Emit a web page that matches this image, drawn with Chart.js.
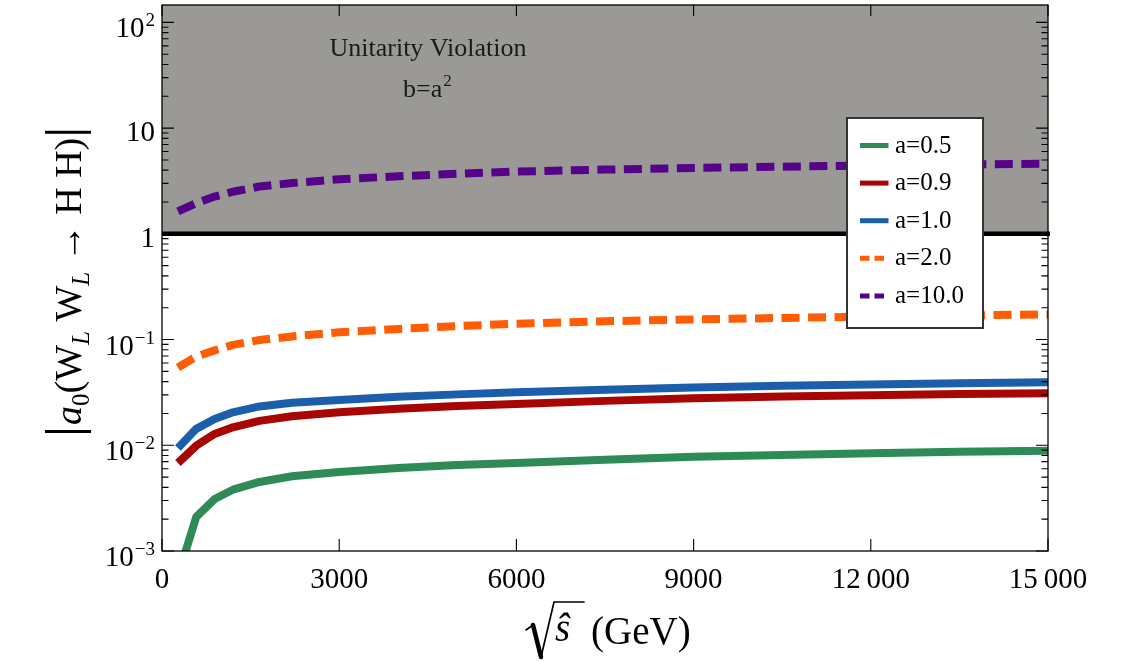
<!DOCTYPE html>
<html>
<head>
<meta charset="utf-8">
<script src="https://cdn.jsdelivr.net/npm/chart.js@4.4.0/dist/chart.umd.min.js"></script>
<style>
  html, body { margin: 0; padding: 0; background: #fff; }
</style>
</head>
<body>
<canvas id="amplitudeChart" width="1148" height="661"></canvas>
<script>
// valores: sqrt(s) en GeV y |a0| para cada a
const sqrtS = [270, 580, 890, 1200, 1650, 2200, 3000, 4000, 5000, 6000, 7500, 9000, 10500, 12000, 13500, 15000];
const seriesLabels = ['a=0.5', 'a=0.9', 'a=1.0', 'a=2.0', 'a=10.0'];
const a05 = [0.00058, 0.0021, 0.0031, 0.0038, 0.0045, 0.0051, 0.0056, 0.0061, 0.0065, 0.0068, 0.0073, 0.0078, 0.0081, 0.0084, 0.0087, 0.0089];
const a09 = [0.0068, 0.0099, 0.0128, 0.0148, 0.0170, 0.0188, 0.0205, 0.0222, 0.0235, 0.0246, 0.0263, 0.0278, 0.0289, 0.0298, 0.0305, 0.0311];
const a10 = [0.0094, 0.0143, 0.0177, 0.0205, 0.0233, 0.0253, 0.0268, 0.0288, 0.0303, 0.0317, 0.0336, 0.0352, 0.0365, 0.0376, 0.0386, 0.0395];
const a20 = [0.0544, 0.069, 0.079, 0.089, 0.099, 0.107, 0.117, 0.126, 0.134, 0.141, 0.149, 0.155, 0.160, 0.165, 0.169, 0.173];
const a100 = [1.63, 1.95, 2.25, 2.50, 2.80, 3.02, 3.28, 3.50, 3.70, 3.88, 4.05, 4.20, 4.32, 4.42, 4.52, 4.60];

const xTicks = [0, 3000, 6000, 9000, 12000, 15000];
const xTickLabels = ['0', '3000', '6000', '9000', '12\u2009000', '15\u2009000'];
const yTicks = [1e-3, 1e-2, 1e-1, 1, 10, 100];
const yTickBase = ['10', '10', '10', '1', '10', '10'];
const yTickExp = ['\u22123', '\u22122', '\u22121', '', '', '2'];

const SERIF = '"Liberation Serif", "Times New Roman", serif';

const toPoints = (vals) => sqrtS.map((x, i) => ({ x: x, y: vals[i] }));

const styles = [
  { color: '#2e8a57', dash: [] },
  { color: '#a80505', dash: [] },
  { color: '#1b5eab', dash: [] },
  { color: '#ff5c03', dash: [18, 8.5] },
  { color: '#56038a', dash: [18, 8.5] }
];
const allSeries = [a05, a09, a10, a20, a100];

const datasets = allSeries.map((vals, i) => ({
  label: seriesLabels[i],
  data: toPoints(vals),
  borderColor: styles[i].color,
  borderWidth: 8,
  borderDash: styles[i].dash,
  borderCapStyle: 'butt',
  borderJoinStyle: 'round',
  pointRadius: 0,
  tension: 0,
  fill: false,
  clip: 0
}));

// zona gris, linea en 1, marco con ticks hacia dentro, leyenda y titulos
const decorations = {
  id: 'decorations',
  beforeDatasetsDraw(chart) {
    const { ctx, chartArea: a, scales: { y } } = chart;
    const y1 = y.getPixelForValue(1);
    ctx.save();
    ctx.fillStyle = '#9a9996';
    ctx.fillRect(a.left, a.top, a.right - a.left, y1 - a.top);
    ctx.restore();
  },
  afterDatasetsDraw(chart) {
    const { ctx, chartArea: a, scales: { x, y } } = chart;
    ctx.save();
    // linea de unitariedad
    const y1 = y.getPixelForValue(1);
    ctx.strokeStyle = '#000';
    ctx.lineWidth = 4.5;
    ctx.beginPath();
    ctx.moveTo(a.left, y1);
    ctx.lineTo(a.right + 2, y1);
    ctx.stroke();

    // marco
    ctx.lineWidth = 1.3;
    ctx.strokeRect(a.left, a.top, a.right - a.left, a.bottom - a.top);

    // ticks
    ctx.lineWidth = 1.1;
    ctx.beginPath();
    xTicks.forEach(v => {
      const px = x.getPixelForValue(v);
      ctx.moveTo(px, a.bottom); ctx.lineTo(px, a.bottom - 12);
      ctx.moveTo(px, a.top); ctx.lineTo(px, a.top + 11);
    });
    yTicks.forEach(d => {
      for (let k = 1; k <= 9; k++) {
        const v = d * k;
        if (v > y.max || v < y.min) continue;
        const py = y.getPixelForValue(v);
        const len = k === 1 ? 12 : 6.5;
        ctx.moveTo(a.left, py); ctx.lineTo(a.left + len, py);
        ctx.moveTo(a.right, py); ctx.lineTo(a.right - len, py);
      }
    });
    ctx.stroke();

    // etiquetas del eje y con exponentes
    ctx.fillStyle = '#000';
    ctx.textBaseline = 'alphabetic';
    yTicks.forEach((v, i) => {
      const py = y.getPixelForValue(v);
      const base = yTickBase[i];
      const exp = yTickExp[i];
      ctx.font = '29px ' + SERIF;
      const wb = ctx.measureText(base).width;
      ctx.font = '19px ' + SERIF;
      const we = exp ? ctx.measureText(exp).width + 1 : 0;
      const right = 155;
      const left = right - wb - we;
      ctx.font = '29px ' + SERIF;
      ctx.textAlign = 'left';
      ctx.fillText(base, left, py + (exp ? 15 : 13));
      if (exp) {
        ctx.font = '19px ' + SERIF;
        ctx.fillText(exp, left + wb + 1, py + 4);
      }
    });
    ctx.restore();
  },
  afterDraw(chart) {
    const { ctx } = chart;
    ctx.save();

    // leyenda
    const lx = 847, ly = 118, lw = 136, lh = 210;
    ctx.fillStyle = '#fff';
    ctx.fillRect(lx, ly, lw, lh);
    ctx.strokeStyle = '#333';
    ctx.lineWidth = 2;
    ctx.strokeRect(lx, ly, lw, lh);
    chart.data.datasets.forEach((ds, i) => {
      const cy = 145.5 + i * 37.6;
      ctx.strokeStyle = ds.borderColor;
      ctx.lineWidth = 5;
      ctx.lineCap = 'butt';
      ctx.setLineDash(ds.borderDash.length ? [9.5, 5] : []);
      ctx.beginPath();
      ctx.moveTo(860, cy);
      ctx.lineTo(888.5, cy);
      ctx.stroke();
      ctx.setLineDash([]);
      ctx.fillStyle = '#000';
      ctx.font = '25px ' + SERIF;
      ctx.textAlign = 'left';
      ctx.fillText(ds.label, 895, cy + 7);
    });

    // texto dentro de la zona gris
    ctx.fillStyle = '#1a1a1a';
    ctx.font = '26px ' + SERIF;
    ctx.textAlign = 'center';
    ctx.fillText('Unitarity Violation', 428, 56);
    ctx.textAlign = 'left';
    ctx.fillText('b=a', 403, 97);
    const wba = ctx.measureText('b=a').width;
    ctx.font = '17px ' + SERIF;
    ctx.fillText('2', 403 + wba + 1, 86);

    // titulo eje x: raiz de s-sombrero (GeV)
    ctx.fillStyle = '#000';
    ctx.strokeStyle = '#000';
    ctx.lineCap = 'round';
    ctx.lineJoin = 'miter';
    ctx.beginPath();
    ctx.lineWidth = 1.6;
    ctx.moveTo(526, 630);
    ctx.lineTo(533, 625);
    ctx.stroke();
    ctx.beginPath();
    ctx.lineWidth = 4.5;
    ctx.moveTo(533, 625);
    ctx.lineTo(541, 657);
    ctx.stroke();
    ctx.beginPath();
    ctx.lineWidth = 1.7;
    ctx.moveTo(541, 657);
    ctx.lineTo(554, 602);
    ctx.lineTo(584, 602);
    ctx.stroke();
    ctx.font = 'italic 39px ' + SERIF;
    ctx.fillText('\u015D', 555, 641);
    ctx.font = '39px ' + SERIF;
    ctx.fillText('(GeV)', 591, 644);

    // titulo eje y: |a0(WL WL -> H H)|
    ctx.translate(81, 433);
    ctx.rotate(-Math.PI / 2);
    let u = 0;
    const bar = () => { ctx.fillRect(u, -36, 3, 46); u += 3; };
    const piece = (txt, font, dv) => {
      ctx.font = font;
      ctx.fillText(txt, u, dv);
      u += ctx.measureText(txt).width;
    };
    const big = '38px ' + SERIF;
    const bigIt = 'italic 38px ' + SERIF;
    const sub = '25px ' + SERIF;
    const subIt = 'italic 25px ' + SERIF;
    bar(); u += 5;
    piece('a', bigIt, 0);
    piece('0', sub, 8);
    piece('(', big, 0);
    piece('W', big, 0);
    piece('L', subIt, 8);
    piece(' ', big, 0);
    piece('W', big, 0);
    piece('L', subIt, 8);
    piece(' \u2192 ', big, 0);
    piece('H H', big, 0);
    piece(')', big, 0);
    u += 4; bar();
    ctx.restore();
  }
};

const ctx = document.getElementById('amplitudeChart').getContext('2d');
const chart = new Chart(ctx, {
  type: 'line',
  data: { datasets: datasets },
  options: {
    responsive: false,
    animation: false,
    layout: { padding: { left: 162, right: 100, top: 5, bottom: 0 } },
    scales: {
      x: {
        type: 'linear',
        min: 0,
        max: 15000,
        afterBuildTicks: (s) => { s.ticks = xTicks.map(v => ({ value: v })); },
        afterFit: (s) => { s.height = 110; },
        grid: { display: false, drawTicks: false },
        border: { display: false },
        ticks: {
          padding: 12,
          maxRotation: 0,
          color: '#000',
          font: { family: SERIF, size: 29 },
          callback: (v) => xTickLabels[xTicks.indexOf(v)]
        }
      },
      y: {
        type: 'logarithmic',
        display: false,
        min: 1e-3,
        max: 146
      }
    },
    plugins: {
      legend: { display: false },
      tooltip: { enabled: false }
    }
  },
  plugins: [decorations]
});
</script>
</body>
</html>
